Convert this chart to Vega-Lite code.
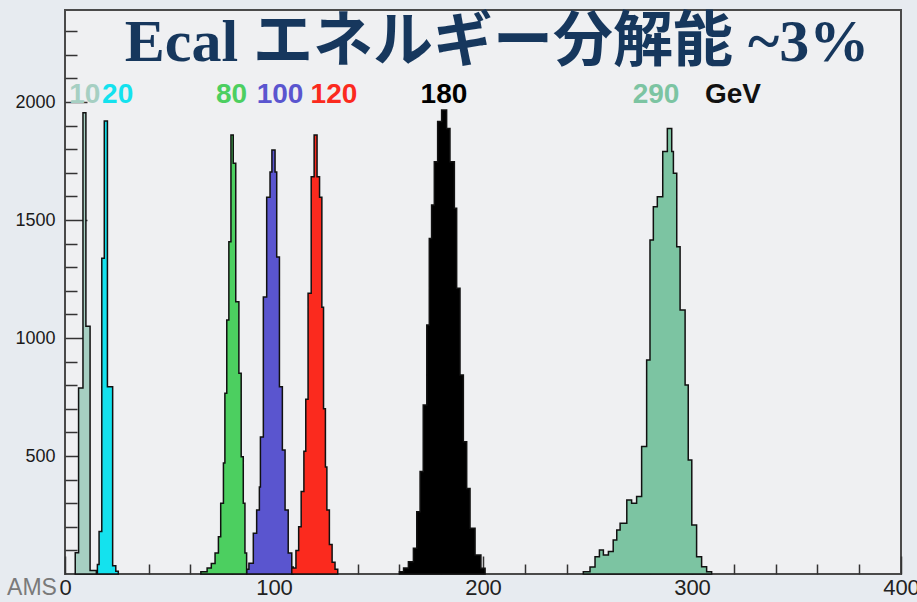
{
  "$schema": "https://vega.github.io/schema/vega-lite/v6.json",
  "width": 836,
  "height": 564,
  "autosize": "none",
  "padding": {"left": 65, "top": 10, "right": 16, "bottom": 28},
  "background": "#e7ebf0",
  "config": {
    "view": {"fill": "#eff0f2", "stroke": "#4a4a4a", "strokeWidth": 2},
    "font": "Liberation Sans"
  },
  "datasets": {
    "hist": [
      {"e": "10", "x": 4.9, "n": 90}, {"e": "10", "x": 6.5, "n": 788}, {"e": "10", "x": 8.6, "n": 1955}, {"e": "10", "x": 10.0, "n": 1050}, {"e": "10", "x": 12.0, "n": 15}, {"e": "10", "x": 15.0, "n": 0},
      {"e": "20", "x": 15.5, "n": 40}, {"e": "20", "x": 16.3, "n": 180}, {"e": "20", "x": 17.6, "n": 1338}, {"e": "20", "x": 18.8, "n": 1920}, {"e": "20", "x": 20.3, "n": 794}, {"e": "20", "x": 22.8, "n": 35}, {"e": "20", "x": 24.3, "n": 12}, {"e": "20", "x": 25.5, "n": 0},
      {"e": "80", "x": 65, "n": 10}, {"e": "80", "x": 68, "n": 25}, {"e": "80", "x": 70, "n": 45}, {"e": "80", "x": 71.8, "n": 89}, {"e": "80", "x": 73.4, "n": 158}, {"e": "80", "x": 74.5, "n": 300}, {"e": "80", "x": 75.8, "n": 470}, {"e": "80", "x": 76.5, "n": 766}, {"e": "80", "x": 77.4, "n": 1076}, {"e": "80", "x": 78.4, "n": 1408}, {"e": "80", "x": 79.4, "n": 1860}, {"e": "80", "x": 80.5, "n": 1741}, {"e": "80", "x": 81.7, "n": 1154}, {"e": "80", "x": 83.2, "n": 851}, {"e": "80", "x": 84.3, "n": 497}, {"e": "80", "x": 85.3, "n": 300}, {"e": "80", "x": 86.1, "n": 89}, {"e": "80", "x": 86.9, "n": 0},
      {"e": "100", "x": 87, "n": 20}, {"e": "100", "x": 88, "n": 46}, {"e": "100", "x": 90.1, "n": 173}, {"e": "100", "x": 91.7, "n": 271}, {"e": "100", "x": 93, "n": 369}, {"e": "100", "x": 93.5, "n": 581}, {"e": "100", "x": 94.9, "n": 1174}, {"e": "100", "x": 96.5, "n": 1597}, {"e": "100", "x": 98.1, "n": 1703}, {"e": "100", "x": 99, "n": 1797}, {"e": "100", "x": 100.5, "n": 1703}, {"e": "100", "x": 101.3, "n": 1343}, {"e": "100", "x": 102.6, "n": 793}, {"e": "100", "x": 104, "n": 525}, {"e": "100", "x": 105.3, "n": 271}, {"e": "100", "x": 106.8, "n": 89}, {"e": "100", "x": 108.5, "n": 30}, {"e": "100", "x": 109.2, "n": 0},
      {"e": "120", "x": 108.5, "n": 25}, {"e": "120", "x": 110.5, "n": 100}, {"e": "120", "x": 111.8, "n": 200}, {"e": "120", "x": 113, "n": 350}, {"e": "120", "x": 114.3, "n": 520}, {"e": "120", "x": 115.2, "n": 740}, {"e": "120", "x": 116.3, "n": 1190}, {"e": "120", "x": 117.8, "n": 1683}, {"e": "120", "x": 119.2, "n": 1860}, {"e": "120", "x": 120.6, "n": 1683}, {"e": "120", "x": 121.8, "n": 1597}, {"e": "120", "x": 122.9, "n": 1130}, {"e": "120", "x": 123.7, "n": 700}, {"e": "120", "x": 124.6, "n": 453}, {"e": "120", "x": 125.3, "n": 271}, {"e": "120", "x": 126.5, "n": 125}, {"e": "120", "x": 127.8, "n": 50}, {"e": "120", "x": 129.2, "n": 20}, {"e": "120", "x": 130.5, "n": 0},
      {"e": "180", "x": 160, "n": 10}, {"e": "180", "x": 162, "n": 25}, {"e": "180", "x": 164.3, "n": 52}, {"e": "180", "x": 166.7, "n": 109}, {"e": "180", "x": 168.3, "n": 264}, {"e": "180", "x": 169.9, "n": 434}, {"e": "180", "x": 171.4, "n": 716}, {"e": "180", "x": 173.1, "n": 1055}, {"e": "180", "x": 174.3, "n": 1422}, {"e": "180", "x": 175.4, "n": 1564}, {"e": "180", "x": 176.7, "n": 1747}, {"e": "180", "x": 178.3, "n": 1917}, {"e": "180", "x": 180.2, "n": 1966}, {"e": "180", "x": 182.6, "n": 1888}, {"e": "180", "x": 184.2, "n": 1747}, {"e": "180", "x": 186.3, "n": 1550}, {"e": "180", "x": 187.4, "n": 1211}, {"e": "180", "x": 189, "n": 843}, {"e": "180", "x": 190.6, "n": 560}, {"e": "180", "x": 192.2, "n": 362}, {"e": "180", "x": 193.8, "n": 194}, {"e": "180", "x": 196.2, "n": 81}, {"e": "180", "x": 199, "n": 24}, {"e": "180", "x": 201, "n": 0},
      {"e": "290", "x": 248, "n": 10}, {"e": "290", "x": 251.2, "n": 30}, {"e": "290", "x": 253.6, "n": 73}, {"e": "290", "x": 255.7, "n": 102}, {"e": "290", "x": 257.6, "n": 80}, {"e": "290", "x": 260, "n": 95}, {"e": "290", "x": 262.3, "n": 144}, {"e": "290", "x": 264, "n": 186}, {"e": "290", "x": 265.6, "n": 215}, {"e": "290", "x": 268.8, "n": 314}, {"e": "290", "x": 271.1, "n": 300}, {"e": "290", "x": 273.5, "n": 328}, {"e": "290", "x": 275.9, "n": 540}, {"e": "290", "x": 278.3, "n": 907}, {"e": "290", "x": 279.9, "n": 1415}, {"e": "290", "x": 281.5, "n": 1556}, {"e": "290", "x": 283.4, "n": 1599}, {"e": "290", "x": 286, "n": 1790}, {"e": "290", "x": 288.2, "n": 1888}, {"e": "290", "x": 290.3, "n": 1790}, {"e": "290", "x": 291.1, "n": 1698}, {"e": "290", "x": 292.7, "n": 1387}, {"e": "290", "x": 294.3, "n": 1119}, {"e": "290", "x": 296.7, "n": 801}, {"e": "290", "x": 298.2, "n": 483}, {"e": "290", "x": 299.9, "n": 208}, {"e": "290", "x": 302.2, "n": 73}, {"e": "290", "x": 304.6, "n": 31}, {"e": "290", "x": 307, "n": 10}, {"e": "290", "x": 309.4, "n": 0}
    ],
    "labels": [
      {"e": "10", "label": "10", "x": 9.5},
      {"e": "20", "label": "20", "x": 25.2},
      {"e": "80", "label": "80", "x": 79.7},
      {"e": "100", "label": "100", "x": 102.9},
      {"e": "120", "label": "120", "x": 128.7},
      {"e": "180", "label": "180", "x": 181.3},
      {"e": "290", "label": "290", "x": 282.8},
      {"e": "GeV", "label": "GeV", "x": 319.6}
    ]
  },
  "resolve": {"axis": {"x": "independent", "y": "independent"}},
  "layer": [
    {
      "data": {"name": "hist"},
      "mark": {"type": "area", "interpolate": "step-after", "stroke": "#111111", "strokeWidth": 1.5, "opacity": 1, "fillOpacity": 1},
      "encoding": {
        "x": {
          "field": "x", "type": "quantitative",
          "scale": {"domain": [0, 400], "nice": false, "zero": false},
          "axis": {"orient": "bottom", "title": null, "values": [0, 100, 200, 300, 400], "format": "d", "ticks": false, "domain": false, "grid": false, "labelFlush": false, "labelFont": "Liberation Sans Narrow, Liberation Sans", "labelFontSize": 22, "labelColor": "#222222", "labelPadding": 3}
        },
        "y": {
          "field": "n", "type": "quantitative", "stack": null,
          "scale": {"domain": [0, 2390], "nice": false},
          "axis": {"orient": "left", "title": null, "values": [500, 1000, 1500, 2000], "format": "d", "ticks": false, "domain": false, "grid": false, "labelFont": "Liberation Sans", "labelFontSize": 18, "labelColor": "#1a1a1a", "labelPadding": 10}
        },
        "color": {
          "field": "e", "type": "nominal", "legend": null,
          "scale": {"domain": ["10", "20", "80", "100", "120", "180", "290", "GeV"], "range": ["#a6cfc2", "#14e2ee", "#4ccf60", "#5a55cf", "#fb2a1e", "#000000", "#7cc4a2", "#111111"]}
        }
      }
    },
    {
      "data": {"name": "labels"},
      "mark": {"type": "text", "font": "Liberation Sans", "fontSize": 28, "fontWeight": "bold", "align": "center", "baseline": "middle"},
      "encoding": {
        "x": {
          "field": "x", "type": "quantitative",
          "scale": {"domain": [0, 400], "nice": false, "zero": false},
          "axis": {"orient": "bottom", "title": null, "values": [0, 100, 200, 300, 400], "labels": false, "domain": false, "grid": false, "ticks": true, "tickSize": -18, "tickWidth": 1.5, "tickColor": "#333333"}
        },
        "y": {
          "datum": 2030, "type": "quantitative",
          "scale": {"domain": [0, 2390], "nice": false},
          "axis": {"orient": "left", "title": null, "values": [500, 1000, 1500, 2000], "labels": false, "domain": false, "grid": false, "ticks": true, "tickSize": -22, "tickWidth": 1.5, "tickColor": "#333333"}
        },
        "text": {"field": "label", "type": "nominal"},
        "color": {"field": "e", "type": "nominal", "legend": null}
      }
    },
    {
      "data": {"values": [{}]},
      "mark": {"type": "text", "font": "Liberation Serif, Noto Sans CJK JP", "fontSize": 60, "fontWeight": "bold", "align": "center", "baseline": "middle", "color": "#16375d"},
      "encoding": {
        "x": {
          "datum": 206.7, "type": "quantitative",
          "scale": {"domain": [0, 400], "nice": false, "zero": false},
          "axis": {"orient": "bottom", "title": null, "values": [20, 40, 60, 80, 120, 140, 160, 180, 220, 240, 260, 280, 320, 340, 360, 380], "labels": false, "domain": false, "grid": false, "ticks": true, "tickSize": -10, "tickWidth": 1.5, "tickColor": "#333333"}
        },
        "y": {
          "datum": 2250, "type": "quantitative",
          "scale": {"domain": [0, 2390], "nice": false},
          "axis": {"orient": "left", "title": null, "values": [100, 200, 300, 400, 600, 700, 800, 900, 1100, 1200, 1300, 1400, 1600, 1700, 1800, 1900, 2100, 2200, 2300], "labels": false, "domain": false, "grid": false, "ticks": true, "tickSize": -12, "tickWidth": 1.5, "tickColor": "#333333"}
        },
        "text": {"value": "Ecal エネルギー分解能 ~3%"}
      }
    },
    {
      "data": {"values": [{}]},
      "mark": {"type": "text", "font": "Liberation Sans Narrow, Liberation Sans", "fontSize": 23, "align": "center", "baseline": "middle", "color": "#7a7a7a"},
      "encoding": {
        "x": {"datum": -15.8, "type": "quantitative", "scale": {"domain": [0, 400], "nice": false, "zero": false}, "axis": null},
        "y": {"datum": -58, "type": "quantitative", "scale": {"domain": [0, 2390], "nice": false}, "axis": null},
        "text": {"value": "AMS"}
      }
    }
  ]
}
